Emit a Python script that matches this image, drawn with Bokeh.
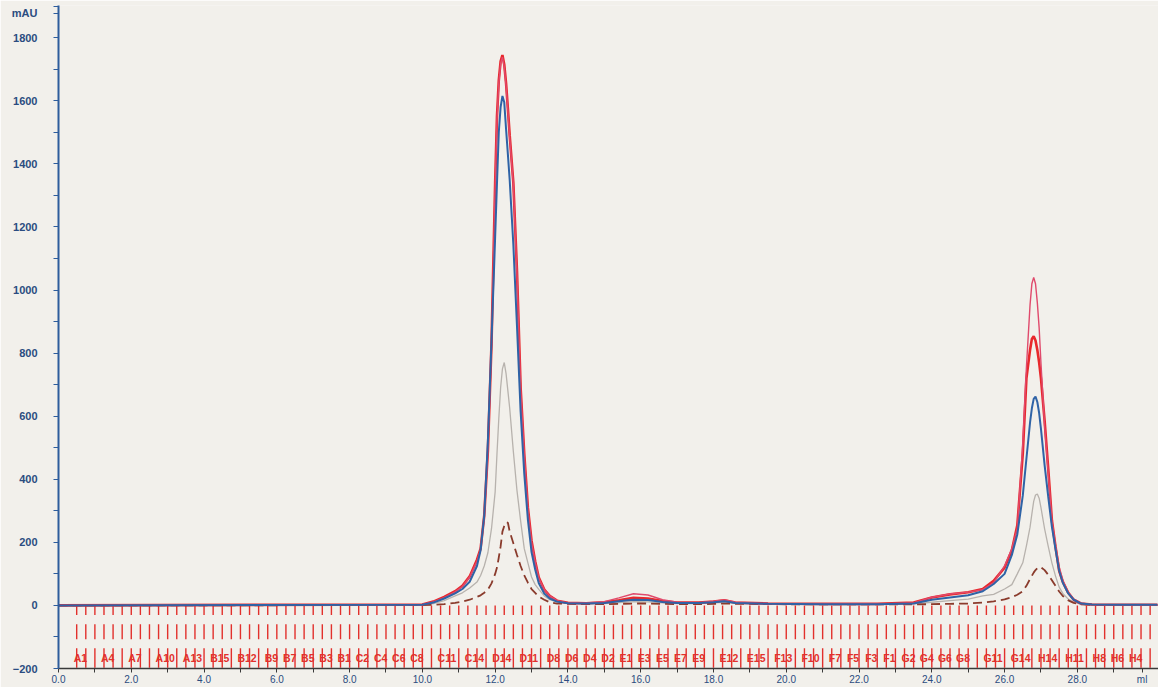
from bokeh.plotting import figure
from bokeh.models import (Range1d, FixedTicker, PrintfTickFormatter,
                          ColumnDataSource)
from bokeh.core.properties import value
from bokeh.embed import file_html
from bokeh.resources import INLINE

# Elution volume (ml) at which every UV trace is sampled
volume_ml = [
    0.0,
    10.0, 10.3, 10.6, 10.9, 11.1, 11.3, 11.5, 11.6, 11.7, 11.8, 11.9,
    12.0, 12.05, 12.1, 12.15, 12.2, 12.25, 12.3, 12.35, 12.4,
    12.5, 12.6, 12.7, 12.8, 12.9, 13.0, 13.1, 13.2, 13.35, 13.5, 13.7,
    14.0, 14.5, 15.0, 15.4, 15.8, 16.2, 16.6, 17.0, 17.6, 18.0, 18.3, 18.6, 19.5, 21.0, 22.5, 23.5,
    24.0, 24.5, 25.0, 25.4, 25.7, 26.0, 26.2, 26.35,
    26.5, 26.6, 26.7, 26.75, 26.8, 26.85, 26.9, 26.95, 27.0,
    27.1, 27.2, 27.3, 27.4, 27.5, 27.6, 27.75, 27.9, 28.1, 28.4, 29.0, 30.2,
]

# Absorbance traces (mAU)
uv_red = [
    0,
    3, 12, 27, 45, 62, 92, 145, 180, 285, 490, 830,
    1340, 1550, 1665, 1725, 1745, 1715, 1655, 1575, 1490,
    1340, 1060, 690, 480, 310, 205, 140, 88, 50, 30, 15,
    8, 7, 10, 16, 24, 22, 14, 9, 9, 12, 16, 9, 6, 5, 5, 9,
    25, 35, 42, 52, 78, 120, 175, 254,
    480, 720, 810, 845, 853, 840, 810, 770, 720,
    586, 433, 270, 186, 110, 75, 40, 18, 6, 3, 2, 2,
]
uv_pink = [
    0,
    3, 11, 25, 43, 60, 90, 140, 178, 280, 485, 825,
    1330, 1540, 1655, 1718, 1738, 1708, 1648, 1568, 1482,
    1335, 1050, 685, 475, 305, 200, 138, 86, 50, 30, 15,
    8, 8, 12, 24, 37, 33, 18, 10, 9, 13, 17, 10, 6, 5, 5, 8,
    26, 36, 42, 50, 72, 125, 180, 245,
    511, 755, 953, 1020, 1040, 1020, 960, 880, 768,
    570, 420, 269, 192, 123, 80, 42, 20, 7, 3, 2, 2,
]
uv_blue = [
    0,
    2, 9, 22, 38, 52, 75, 125, 175, 285, 520, 840,
    1168, 1337, 1500, 1580, 1615, 1595, 1510, 1430, 1348,
    1144, 885, 615, 418, 271, 169, 114, 70, 38, 22, 12,
    7, 6, 8, 13, 18, 17, 11, 8, 8, 10, 13, 8, 5, 4, 4, 6,
    18, 25, 32, 45, 68, 100, 160, 225,
    348, 465, 580, 625, 655, 662, 645, 610, 560,
    445, 344, 250, 178, 110, 72, 38, 18, 6, 3, 2, 2,
]
uv_grey = [
    0,
    2, 6, 15, 30, 40, 55, 74, 95, 125, 167, 244,
    360, 480, 592, 690, 750, 770, 735, 680, 625,
    488, 364, 268, 180, 135, 90, 66, 51, 30, 18, 11,
    6, 5, 6, 9, 12, 11, 8, 6, 6, 8, 10, 7, 5, 4, 4, 5,
    10, 15, 20, 30, 35, 52, 66, 100,
    135, 189, 248, 290, 330, 350, 353, 340, 310,
    243, 187, 135, 93, 58, 38, 20, 10, 4, 2, 1, 1,
]
uv_brown = [
    0,
    1, 2, 4, 8, 12, 18, 27, 32, 40, 50, 70,
    100, 120, 152, 187, 234, 252, 264, 262, 234,
    197, 160, 125, 95, 72, 52, 40, 28, 18, 10, 6,
    5, 4, 4, 5, 6, 6, 5, 4, 4, 5, 6, 5, 4, 3, 3, 3,
    4, 5, 6, 9, 13, 19, 26, 34,
    45, 62, 84, 94, 104, 112, 118, 122, 121,
    112, 97, 80, 62, 44, 30, 16, 8, 3, 2, 1, 1,
]

# Fraction collector: first mark, volume per tube, number of marks
fraction_start_ml = 0.5
fraction_volume_ml = 0.25
fraction_marks = 119
plate_rows = "ABCDEFGH"
plate_cols = 15
labelled_wells = [
    "A1", "A4", "A7", "A10", "A13", "B15", "B12", "B9", "B7", "B5", "B3", "B1",
    "C2", "C4", "C6", "C8", "C11", "C14", "D14", "D11", "D8", "D6", "D4", "D2",
    "E1", "E3", "E5", "E7", "E9", "E12", "E15", "F13", "F10", "F7", "F5", "F3", "F1",
    "G2", "G4", "G6", "G8", "G11", "G14", "H14", "H11", "H8", "H6", "H4",
]

# Axis ticks; the unit names sit on their own ticks
x_major = [0, 2, 4, 6, 8, 10, 12, 14, 16, 18, 20, 22, 24, 26, 28]
x_minor = [1, 3, 5, 7, 9, 11, 13, 15, 17, 19, 21, 23, 25, 27, 29]
x_unit_pos, x_unit = 29.78, "ml"
y_major = [-200, 0, 200, 400, 600, 800, 1000, 1200, 1400, 1600, 1800]
y_minor = [-100, 100, 300, 500, 700, 900, 1100, 1300, 1500, 1700, 1900]
y_unit_pos, y_unit = 1877, "mAU"


def well_position(name):
    """Serpentine plate order: odd rows left-to-right, even rows right-to-left."""
    row = plate_rows.index(name[0])
    col = int(name[1:])
    pos = col - 1 if row % 2 == 0 else plate_cols - col
    return fraction_start_ml + (row * plate_cols + pos) * fraction_volume_ml


BG = "#f2f0eb"
AXIS_BLUE = "#2e5d9c"
TEXT_BLUE = "#2b4c80"
FRAC_RED = "#e2302c"

p = figure(width=1158, height=687,
           x_range=Range1d(0, 30.23), y_range=Range1d(-200, 1902),
           output_backend="svg", toolbar_location=None,
           min_border_left=58, min_border_right=0,
           min_border_top=5, min_border_bottom=18)
p.background_fill_color = BG
p.border_fill_color = BG
p.outline_line_color = None
p.grid.visible = False

# Fraction marks below the baseline
mark_x = [fraction_start_ml + k * fraction_volume_ml for k in range(fraction_marks)]
for y0, y1 in [(0, -30), (-60, -107), (-136, -198)]:
    p.segment(x0=mark_x, y0=[y0] * len(mark_x), x1=mark_x, y1=[y1] * len(mark_x),
              line_color=FRAC_RED, line_width=1.4)

frac_src = ColumnDataSource(dict(
    x=[well_position(w) for w in labelled_wells],
    y=[-168] * len(labelled_wells),
    t=labelled_wells,
))
p.text(x="x", y="y", text="t", source=frac_src, x_offset=-3,
       text_font=value("Liberation Sans"), text_font_size="10.5px",
       text_font_style="bold",
       text_color=FRAC_RED, text_align="left", text_baseline="middle")

# UV traces
p.line(volume_ml, uv_grey, line_color="#b7b2ad", line_width=1.3)
p.line(volume_ml, uv_brown, line_color="#8a3b2c", line_width=1.8, line_dash="9 5")
p.line(volume_ml, uv_red, line_color="#e8282c", line_width=2.6)
p.line(volume_ml, uv_pink, line_color="#e04a6c", line_width=1.4)
p.line(volume_ml, uv_blue, line_color="#2f63a6", line_width=2.0)

# Axes
xa = p.xaxis[0]
xa.ticker = FixedTicker(ticks=x_major + [x_unit_pos], minor_ticks=x_minor)
xa.formatter = PrintfTickFormatter(format="%.1f")
xa.major_label_overrides = {x_unit_pos: x_unit}
xa.axis_line_color = "#3a3a3a"
xa.axis_line_width = 1.5
xa.major_tick_line_color = "#3a3a3a"
xa.minor_tick_line_color = "#3a3a3a"
xa.major_tick_in = 0
xa.major_tick_out = 4
xa.minor_tick_in = 0
xa.minor_tick_out = 4
xa.major_label_standoff = 1
xa.major_label_text_font = "Liberation Sans"
xa.major_label_text_font_size = "10px"
xa.major_label_text_color = TEXT_BLUE

ya = p.yaxis[0]
ya.ticker = FixedTicker(ticks=y_major + [y_unit_pos], minor_ticks=y_minor)
ya.major_label_overrides = {y_unit_pos: y_unit}
ya.axis_line_color = AXIS_BLUE
ya.axis_line_width = 2
ya.major_tick_line_color = AXIS_BLUE
ya.minor_tick_line_color = AXIS_BLUE
ya.major_tick_in = 0
ya.major_tick_out = 5
ya.minor_tick_in = 0
ya.minor_tick_out = 5
ya.major_label_standoff = 16
ya.major_label_text_font = "Liberation Sans"
ya.major_label_text_font_style = "bold"
ya.major_label_text_font_size = "11px"
ya.major_label_text_color = TEXT_BLUE

open("out.html", "w").write(file_html(p, INLINE))
